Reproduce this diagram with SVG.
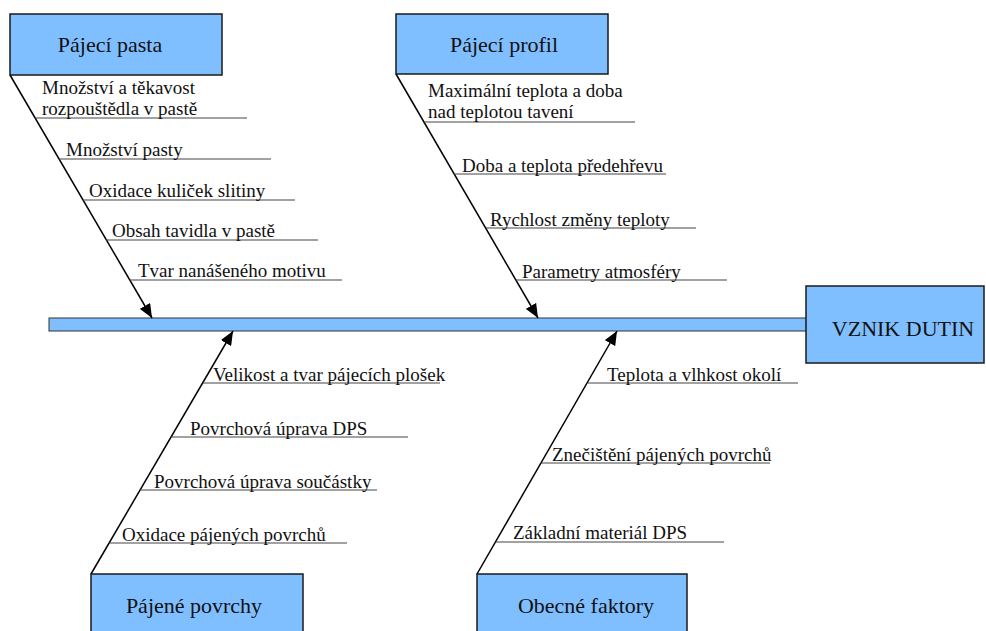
<svg xmlns="http://www.w3.org/2000/svg" width="986" height="631" viewBox="0 0 986 631">
<defs>
<marker id="ah" markerUnits="userSpaceOnUse" markerWidth="14" markerHeight="12" viewBox="0 0 14 12" refX="14" refY="6" orient="auto">
<path d="M0,0 L14,6 L0,12 Z" fill="#000"/>
</marker>
</defs>
<style>
.box{fill:#80BFFF;stroke:#1a1a1a;stroke-width:1.5}
.lbl{font-family:'Liberation Serif','Times New Roman',serif;font-size:22px;fill:#111;text-anchor:middle}
.it{font-family:'Liberation Serif','Times New Roman',serif;font-size:19px;fill:#111}
.ul{stroke:#444;stroke-width:1;fill:none}
.bone{stroke:#000;stroke-width:1.5;fill:none;marker-end:url(#ah)}
</style>
<rect width="986" height="631" fill="#fff"/>
<g id="spine">
<rect x="49" y="318" width="758" height="13" fill="#80BFFF" stroke="#333" stroke-width="1"/>
</g>
<g id="connectors">
<line class="bone" x1="10" y1="75" x2="152" y2="318"/>
<line class="bone" x1="396" y1="74" x2="538" y2="318"/>
<line class="bone" x1="91" y1="574" x2="233" y2="331"/>
<line class="bone" x1="477" y1="574" x2="617" y2="331"/>
<line class="ul" x1="35" y1="118" x2="247" y2="118"/>
<line class="ul" x1="59" y1="159" x2="271" y2="159"/>
<line class="ul" x1="83" y1="200" x2="295" y2="200"/>
<line class="ul" x1="106" y1="240" x2="318" y2="240"/>
<line class="ul" x1="130" y1="280" x2="342" y2="280"/>
<line class="ul" x1="424" y1="122" x2="635" y2="122"/>
<line class="ul" x1="454" y1="174" x2="666" y2="174"/>
<line class="ul" x1="486" y1="228" x2="696" y2="228"/>
<line class="ul" x1="516" y1="280" x2="727" y2="280"/>
<line class="ul" x1="203" y1="383" x2="440" y2="383"/>
<line class="ul" x1="171" y1="437" x2="408" y2="437"/>
<line class="ul" x1="140" y1="490" x2="377" y2="490"/>
<line class="ul" x1="109" y1="543" x2="347" y2="543"/>
<line class="ul" x1="588" y1="383" x2="798" y2="383"/>
<line class="ul" x1="541" y1="463" x2="770" y2="463"/>
<line class="ul" x1="496" y1="542" x2="724" y2="542"/>
</g>
<g id="pajeci-pasta">
<rect class="box" x="10" y="14" width="212" height="61"/>
<text class="lbl" x="110" y="52">Pájecí pasta</text>
<text class="it" x="42" y="94">Množství a těkavost</text>
<text class="it" x="42" y="115">rozpouštědla v pastě</text>
<text class="it" x="66" y="156">Množství pasty</text>
<text class="it" x="89" y="197">Oxidace kuliček slitiny</text>
<text class="it" x="112" y="237">Obsah tavidla v pastě</text>
<text class="it" x="138" y="277">Tvar nanášeného motivu</text>
</g>
<g id="pajeci-profil">
<rect class="box" x="396" y="14" width="212" height="60"/>
<text class="lbl" x="504" y="52">Pájecí profil</text>
<text class="it" x="428" y="97">Maximální teplota a doba</text>
<text class="it" x="428" y="118">nad teplotou tavení</text>
<text class="it" x="462" y="172">Doba a teplota předehřevu</text>
<text class="it" x="490" y="226">Rychlost změny teploty</text>
<text class="it" x="522" y="278">Parametry atmosféry</text>
</g>
<g id="pajene-povrchy">
<rect class="box" x="91" y="574" width="212" height="70"/>
<text class="lbl" x="194" y="613">Pájené povrchy</text>
<text class="it" x="213" y="381">Velikost a tvar pájecích plošek</text>
<text class="it" x="190" y="435">Povrchová úprava DPS</text>
<text class="it" x="154" y="488">Povrchová úprava součástky</text>
<text class="it" x="122" y="541">Oxidace pájených povrchů</text>
</g>
<g id="obecne-faktory">
<rect class="box" x="477" y="574" width="210" height="70"/>
<text class="lbl" x="586" y="613">Obecné faktory</text>
<text class="it" x="607" y="381">Teplota a vlhkost okolí</text>
<text class="it" x="552" y="461">Znečištění pájených povrchů</text>
<text class="it" x="513" y="539">Základní materiál DPS</text>
</g>
<g id="vznik-dutin">
<rect class="box" x="806" y="286" width="178" height="77"/>
<text class="lbl" x="903" y="336">VZNIK DUTIN</text>
</g>
</svg>
